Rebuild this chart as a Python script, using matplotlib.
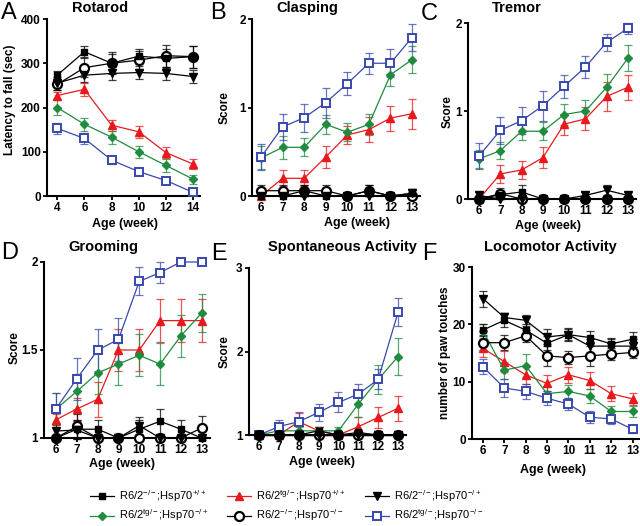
import matplotlib
matplotlib.use("Agg")
import matplotlib.pyplot as plt

plt.rcParams["font.family"] = ["Liberation Sans", "DejaVu Sans"]
plt.rcParams["mathtext.fontset"] = "custom"
plt.rcParams["mathtext.rm"] = "Liberation Sans"
plt.rcParams["mathtext.it"] = "Liberation Sans:italic"
plt.rcParams["mathtext.bf"] = "Liberation Sans:bold"

W, H = 640, 526

# --- Data (group order: ko/wt, tg/wt, ko/het, tg/het, ko/ko, tg/ko) ---
labels = [
    r"R6/2$^{-/-}$;Hsp70$^{+/+}$",
    r"R6/2$^{\mathrm{tg/-}}$;Hsp70$^{+/+}$",
    r"R6/2$^{-/-}$;Hsp70$^{-/+}$",
    r"R6/2$^{\mathrm{tg/-}}$;Hsp70$^{-/+}$",
    r"R6/2$^{-/-}$;Hsp70$^{-/-}$",
    r"R6/2$^{\mathrm{tg/-}}$;Hsp70$^{-/-}$",
]

weeks_rotarod = [4, 6, 8, 10, 12, 14]
weeks = [6, 7, 8, 9, 10, 11, 12, 13]

rotarod_mean = [
    [273, 326, 300, 316, 311, 315],
    [227, 241, 160, 145, 98, 72],
    [255, 273, 277, 279, 277, 270],
    [200, 162, 133, 100, 69, 38],
    [252, 290, 300, 307, 317, 315],
    [153, 130, 81, 55, 35, 8],
]
rotarod_sem = [
    [10, 12, 22, 17, 22, 25],
    [8, 15, 12, 14, 12, 12],
    [15, 15, 15, 15, 15, 15],
    [18, 15, 15, 13, 14, 10],
    [12, 22, 25, 20, 25, 25],
    [12, 12, 8, 8, 7, 5],
]

clasp_mean = [
    [0, 0, 0.06, 0, 0, 0.06, 0, 0.03],
    [0, 0.2, 0.2, 0.44, 0.69, 0.75, 0.88, 0.93],
    [0, 0, 0, 0, 0, 0, 0, 0.03],
    [0.43, 0.55, 0.55, 0.81, 0.72, 0.81, 1.37, 1.54],
    [0.06, 0.06, 0.06, 0.06, 0, 0.06, 0, 0],
    [0.44, 0.78, 0.885, 1.055, 1.27, 1.5, 1.5, 1.79],
]
clasp_sem = [
    [0, 0, 0.06, 0, 0, 0.06, 0, 0.05],
    [0, 0.09, 0.09, 0.12, 0.1, 0.14, 0.14, 0.17],
    [0, 0, 0, 0, 0, 0, 0, 0.05],
    [0.13, 0.13, 0.1, 0.11, 0.1, 0.12, 0.13, 0.15],
    [0.06, 0.06, 0.06, 0.06, 0, 0.06, 0, 0],
    [0.15, 0.15, 0.16, 0.17, 0.13, 0.12, 0.16, 0.15],
]

tremor_mean = [
    [0, 0.05, 0.08, 0, 0, 0, 0, 0],
    [0, 0.285, 0.33, 0.47, 0.85, 0.91, 1.165, 1.27],
    [0.04, 0, 0, 0, 0, 0.04, 0.1, 0.04],
    [0.455, 0.55, 0.77, 0.77, 0.96, 1.0, 1.27, 1.6],
    [0, 0.06, 0, 0, 0, 0, 0, 0],
    [0.49, 0.78, 0.89, 1.06, 1.28, 1.5, 1.78, 1.94],
]
tremor_sem = [
    [0, 0.05, 0.08, 0, 0, 0, 0, 0],
    [0, 0.1, 0.1, 0.12, 0.12, 0.13, 0.16, 0.14],
    [0.04, 0, 0, 0, 0, 0.04, 0.06, 0.04],
    [0.1, 0.1, 0.1, 0.1, 0.12, 0.13, 0.15, 0.15],
    [0, 0.06, 0, 0, 0, 0, 0, 0],
    [0.15, 0.15, 0.15, 0.17, 0.13, 0.12, 0.1, 0.06],
]

groom_mean = [
    [1.0, 1.05, 1.05, 1.0, 1.05, 1.095, 1.05, 1.0],
    [1.104, 1.165, 1.22, 1.5, 1.5, 1.667, 1.667, 1.667],
    [1.04, 1.045, 1.0, 1.0, 1.07, 1.0, 1.0, 1.0],
    [1.165, 1.265, 1.37, 1.42, 1.47, 1.42, 1.58, 1.71],
    [1.0, 1.066, 1.0, 1.0, 1.0, 1.0, 1.0, 1.057],
    [1.167, 1.337, 1.5, 1.56, 1.89, 1.94, 2.0, 2.0],
]
groom_sem = [
    [0, 0.05, 0.05, 0, 0.05, 0.07, 0.05, 0],
    [0.03, 0.06, 0.1, 0.12, 0.12, 0.12, 0.12, 0.12],
    [0.04, 0.05, 0, 0, 0.05, 0, 0, 0],
    [0.09, 0.1, 0.12, 0.12, 0.12, 0.12, 0.12, 0.11],
    [0, 0.07, 0, 0, 0, 0, 0, 0.07],
    [0.09, 0.12, 0.12, 0.12, 0.08, 0.06, 0, 0],
]

spont_mean = [
    [1.0, 1.0, 1.0, 1.05, 1.0, 1.03, 1.0, 1.0],
    [1.0, 1.0, 1.16, 1.05, 1.0, 1.1, 1.21, 1.32],
    [1.0, 1.0, 1.0, 1.0, 1.0, 1.0, 1.0, 1.0],
    [1.0, 1.05, 1.05, 1.05, 1.05, 1.37, 1.665, 1.94],
    [1.0, 1.0, 1.0, 1.0, 1.0, 1.0, 1.0, 1.0],
    [1.0, 1.1, 1.16, 1.27, 1.39, 1.49, 1.665, 2.47],
]
spont_sem = [
    [0, 0, 0, 0.05, 0, 0.03, 0, 0],
    [0, 0, 0.12, 0.05, 0, 0.12, 0.13, 0.15],
    [0, 0, 0, 0, 0, 0, 0, 0],
    [0, 0.05, 0.05, 0.05, 0.05, 0.15, 0.17, 0.22],
    [0, 0, 0, 0, 0, 0, 0, 0],
    [0, 0.08, 0.1, 0.1, 0.12, 0.12, 0.12, 0.17],
]

loco_mean = [
    [19.0, 20.7, 19.0, 16.7, 18.2, 17.7, 16.6, 17.4],
    [15.8, 13.5, 11.2, 9.7, 11.2, 10.2, 7.9, 7.0],
    [24.5, 21.2, 20.7, 17.8, 18.2, 16.2, 16.2, 16.2],
    [18.9, 12.0, 12.8, 7.9, 8.3, 7.5, 4.8, 4.8],
    [16.8, 16.8, 18.0, 14.5, 14.2, 14.5, 14.8, 15.1],
    [12.6, 8.9, 8.3, 7.1, 6.1, 3.8, 3.5, 1.7],
]
loco_sem = [
    [1.1, 1.2, 1.0, 1.2, 1.1, 1.1, 1.1, 1.3],
    [1.5, 1.8, 1.6, 1.4, 1.4, 1.5, 1.3, 1.0],
    [1.4, 0.8, 1.0, 1.3, 1.0, 1.2, 1.2, 1.2],
    [1.2, 1.5, 2.0, 1.3, 1.2, 1.3, 1.0, 1.0],
    [1.3, 1.3, 1.0, 1.8, 1.2, 1.8, 1.0, 1.0],
    [1.3, 1.5, 1.3, 1.2, 1.0, 1.0, 0.9, 0.6],
]

# --- Styles ---
RED = "#e8191c"
GREEN = "#1e8b3e"
BLUE = "#3848ad"
styles = [
    dict(color="black", marker="s", ms=4.5, mfc="black", mec="black"),
    dict(color=RED, marker="^", ms=6, mfc=RED, mec=RED),
    dict(color="black", marker="v", ms=6, mfc="black", mec="black"),
    dict(color=GREEN, marker="D", ms=4, mfc=GREEN, mec=GREEN),
    dict(color="black", marker="o", ms=6.5, mfc="white", mec="black", mew=1.6),
    dict(color=BLUE, marker="s", ms=5.5, mfc="white", mec=BLUE, mew=1.4),
]
# open circles go under the filled black markers
draw_order = [1, 3, 5, 4, 0, 2]


def fig_box(x0, y0, x1, y1):
    return [x0 / W, 1 - y1 / H, (x1 - x0) / W, (y1 - y0) / H]


def ftext(x, y, s, **kw):
    fig.text(x / W, 1 - y / H, s, **kw)


fig = plt.figure(figsize=(W / 100, H / 100), dpi=100)
handles = [None] * 6


def panel(box, x, means, sems, xlim, ylim, yticks, yticklabels, xticks):
    ax = fig.add_axes(fig_box(*box))
    for i in draw_order:
        st = styles[i]
        ax.errorbar(x, means[i], yerr=sems[i], fmt="none", ecolor=st["color"],
                    elinewidth=0.9, capsize=3, capthick=0.9, alpha=0.75,
                    clip_on=False, zorder=2)
        ln, = ax.plot(x, means[i], lw=0.9, clip_on=False, zorder=3, **st)
        handles[i] = ln
    ax.set_xlim(*xlim)
    ax.set_ylim(*ylim)
    ax.set_xticks(xticks)
    ax.set_yticks(yticks)
    ax.set_yticklabels(yticklabels)
    for s in ["top", "right"]:
        ax.spines[s].set_visible(False)
    for s in ["left", "bottom"]:
        ax.spines[s].set_linewidth(1.5)
        ax.spines[s].set_zorder(1)
    ax.tick_params(width=1.3, length=3, labelsize=8.5, pad=1.5)
    for t in ax.get_xticklabels() + ax.get_yticklabels():
        t.set_fontweight("bold")
    return ax


# A Rotarod
panel((47, 19, 200, 196), weeks_rotarod, rotarod_mean, rotarod_sem,
      (3.25, 14.5), (0, 400), [0, 100, 200, 300, 400],
      ["0", "100", "200", "300", "400"], weeks_rotarod)
# B Clasping
panel((252, 19, 420, 196), weeks, clasp_mean, clasp_sem,
      (5.58, 13.37), (0, 2), [0, 1, 2], ["0", "1", "2"], weeks)
# C Tremor
panel((468, 23, 636, 199), weeks, tremor_mean, tremor_sem,
      (5.48, 13.38), (0, 2), [0, 1, 2], ["0", "1", "2"], weeks)
# D Grooming
panel((44, 262, 210, 438), weeks, groom_mean, groom_sem,
      (5.42, 13.4), (1, 2), [1, 1.5, 2], ["1", "1.5", "2"], weeks)
# E Spontaneous Activity
panel((249, 268, 406, 435), weeks, spont_mean, spont_sem,
      (5.5, 13.4), (1, 3), [1, 2, 3], ["1", "2", "3"], weeks)
# F Locomotor Activity
panel((472, 267, 640, 439), weeks, loco_mean, loco_sem,
      (5.49, 13.35), (0, 30), [0, 10, 20, 30], ["0", "10", "20", "30"], weeks)

# titles
for x, y, s in [(100, 8, "Rotarod"), (307, 8, "Clasping"), (517, 8, "Tremor"),
                (103, 247, "Grooming"), (342, 247, "Spontaneous Activity"),
                (550, 247, "Locomotor Activity")]:
    ftext(x, y, s, ha="center", va="center", fontsize=10.5, fontweight="bold")

# panel letters
for x, y, s in [(1, 13, "A"), (210, 13, "B"), (421, 14, "C"),
                (1, 253, "D"), (211, 254, "E"), (422, 254, "F")]:
    ftext(x, y, s, ha="left", va="center", fontsize=17)

# y labels
for x, y, s in [(10, 100, "Latency to fall (sec)"), (225, 108, "Score"),
                (448, 112, "Score"), (15, 348, "Score"), (225, 352, "Score"),
                (445, 353, "number of paw touches")]:
    ftext(x, y, s, ha="center", va="center", rotation=90, fontsize=8.5,
          fontweight="bold")

# x labels
for x, y in [(125, 224), (357, 223), (548, 226), (122, 464), (322, 462), (553, 470)]:
    ftext(x, y, "Age (week)", ha="center", va="center", fontsize=9,
          fontweight="bold")

# legend: three columns, two rows each
for col, x in enumerate([90, 227, 365]):
    hs = [handles[col], handles[col + 3]]
    ls = [labels[col], labels[col + 3]]
    fig.legend(hs, ls, loc="upper left", bbox_to_anchor=(x / W, 1 - 488 / H),
               frameon=False, fontsize=8, handlelength=2.2, handletextpad=0.4,
               labelspacing=0.35, borderpad=0, borderaxespad=0)

fig.savefig("out.png", dpi=100)
